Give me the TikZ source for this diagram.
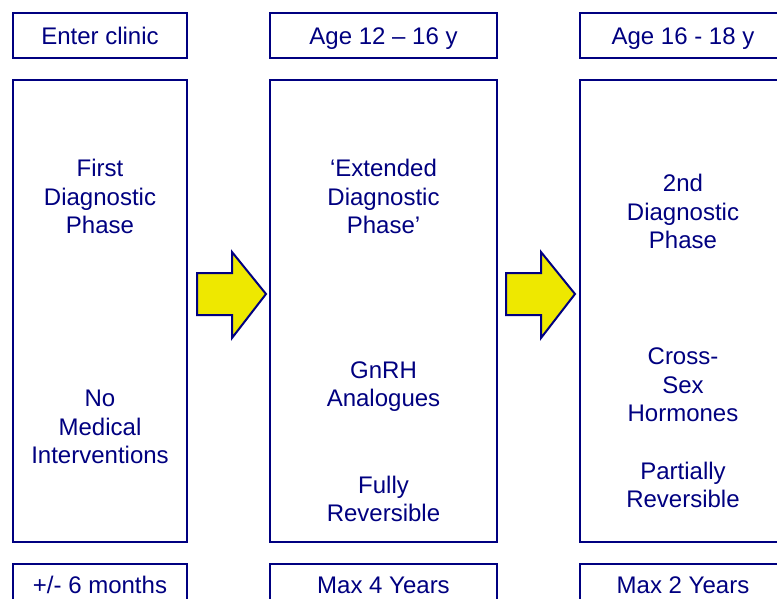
\documentclass[tikz,border=0pt]{standalone}
\usepackage{fontspec}
\setmainfont{Liberation Sans}
\definecolor{navy}{HTML}{000080}
\definecolor{arrowyellow}{HTML}{EEE800}
\begin{document}
\begin{tikzpicture}[x=1pt,y=-1pt,
  frame/.style={draw=navy,line width=2pt},
  txt/.style={text=navy,align=center,font=\fontsize{24}{28.5}\selectfont,inner sep=0pt,anchor=base},
  bigarrow/.style={draw=navy,fill=arrowyellow,line width=2pt,line join=miter}]
\useasboundingbox (0,0) rectangle (777,599);
% top boxes
\draw[frame] (13,13) rectangle (187,58);
\draw[frame] (270,13) rectangle (497,58);
\draw[frame] (580,13) rectangle (800,58);
\node[txt] (t1) at (100,45) {Enter clinic};
\node[txt] (t2) at (383.5,45) {Age 12 – 16 y};
\node[txt] (t3) at (683,45) {Age 16 - 18 y};
% main boxes (anchor = baseline of last line)
\draw[frame] (13,80) rectangle (187,542);
\draw[frame] (270,80) rectangle (497,542);
\draw[frame] (580,80) rectangle (800,542);
\node[txt] (a1) at (100,233.5) {First\\Diagnostic\\Phase};
\node[txt] (a2) at (100,463.5) {No\\Medical\\Interventions};
\node[txt] (b1) at (383.5,233.5) {‘Extended\\Diagnostic\\Phase’};
\node[txt] (b2) at (383.5,406.7) {GnRH\\Analogues};
\node[txt] (b3) at (383.5,521.7) {Fully\\Reversible};
\node[txt] (c1) at (683,248.5) {2nd\\Diagnostic\\Phase};
\node[txt] (c2) at (683,421.5) {Cross-\\Sex\\Hormones};
\node[txt] (c3) at (683,507.5) {Partially\\Reversible};
% bottom boxes
\draw[frame] (13,564) rectangle (187,620);
\draw[frame] (270,564) rectangle (497,620);
\draw[frame] (580,564) rectangle (800,620);
\node[txt] (d1) at (100,593) {+/- 6 months};
\node[txt] (d2) at (383.5,593) {Max 4 Years};
\node[txt] (d3) at (683,593) {Max 2 Years};
% arrows
\draw[bigarrow] (197,273) -- (232,273) -- (232,252) -- (266,294) -- (232,338) -- (232,315) -- (197,315) -- cycle;
\draw[bigarrow] (506,273) -- (541,273) -- (541,252) -- (575,294) -- (541,338) -- (541,315) -- (506,315) -- cycle;
\end{tikzpicture}
\end{document}
